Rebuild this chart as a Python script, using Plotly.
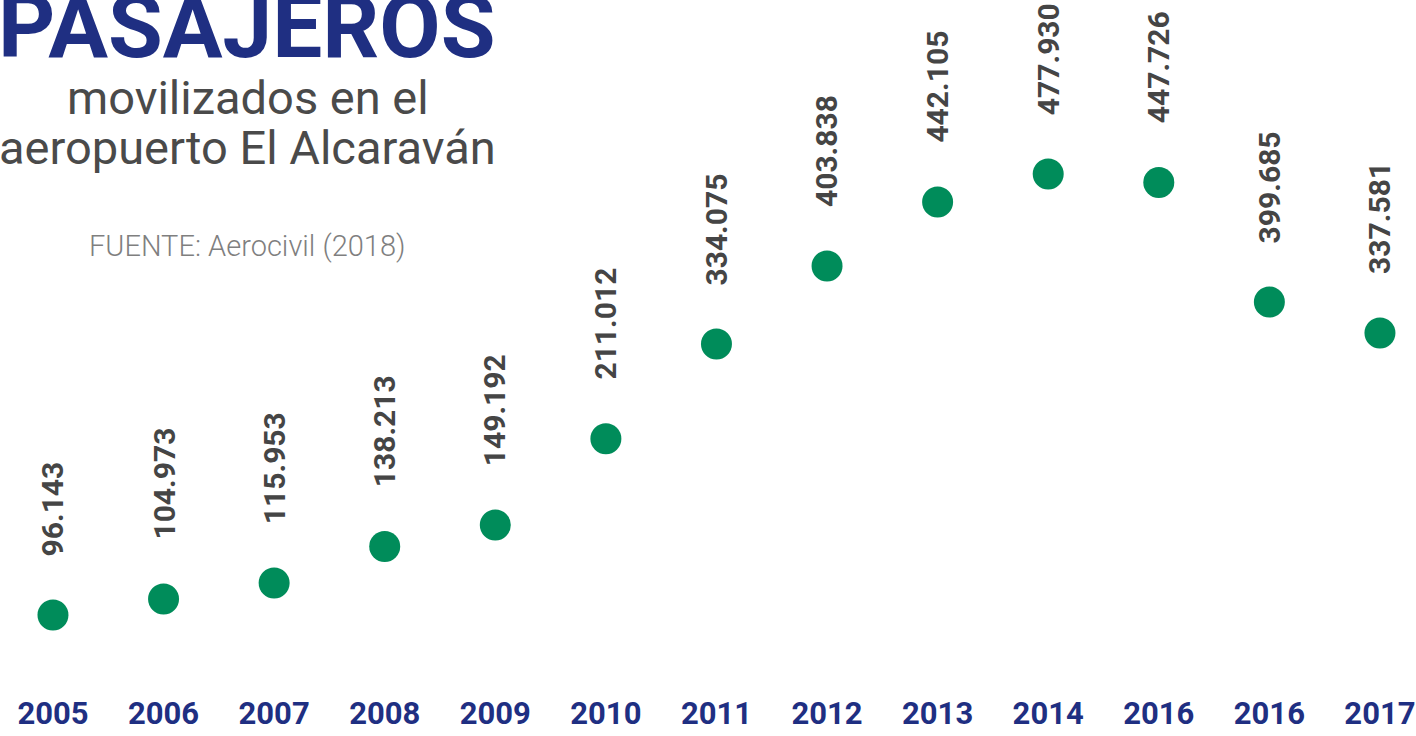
import plotly.graph_objects as go

# ---- data ----
anios = ["2005", "2006", "2007", "2008", "2009", "2010", "2011",
         "2012", "2013", "2014", "2016", "2016", "2017"]
etiquetas = ["96.143", "104.973", "115.953", "138.213", "149.192", "211.012",
             "334.075", "403.838", "442.105", "477.930", "447.726", "399.685", "337.581"]
# marker heights (passengers)
valores_punto = [96143, 110000, 123800, 155400, 174100, 248800, 330700,
                 398300, 453700, 477930, 470600, 367100, 340300]

AZUL = "#1f2f82"
VERDE = "#008c5a"
GRIS = "#454545"
SANS = "Roboto, 'Liberation Sans', Arial, sans-serif"

W, H = 1416, 736
MB = 44
PH = H - MB

def py(p):
    return (PH - p) / PH

def px(p):
    return p / W

pos = list(range(len(anios)))

fig = go.Figure()
fig.add_trace(go.Scatter(
    x=pos, y=valores_punto, mode="markers",
    marker=dict(size=31, color=VERDE, line=dict(width=0)),
    hoverinfo="skip", showlegend=False,
))

annotations = []
for i, (v, t) in enumerate(zip(valores_punto, etiquetas)):
    annotations.append(dict(
        x=i, y=v, xref="x", yref="y", text=t, showarrow=False,
        textangle=-90, xanchor="center", yanchor="bottom", yshift=57,
        font=dict(family=SANS, size=30, color=GRIS, weight="bold"),
    ))

annotations += [
    dict(x=px(498), y=py(26), xref="paper", yref="paper", text="PASAJEROS",
         showarrow=False, xanchor="right", yanchor="middle",
         font=dict(family=SANS, size=89, color=AZUL, weight="bold")),
    dict(x=px(247.5), y=py(98), xref="paper", yref="paper", text="movilizados en el",
         showarrow=False, xanchor="center", yanchor="middle",
         font=dict(family=SANS, size=47, color="#4a4a4a")),
    dict(x=px(247.5), y=py(148), xref="paper", yref="paper", text="aeropuerto El Alcaraván",
         showarrow=False, xanchor="center", yanchor="middle",
         font=dict(family=SANS, size=47, color="#4a4a4a")),
    dict(x=px(247), y=py(246), xref="paper", yref="paper", text="FUENTE: Aerocivil (2018)",
         showarrow=False, xanchor="center", yanchor="middle",
         font=dict(family=SANS, size=29, color="#7f7f7f", weight=300)),
]

fig.update_layout(
    width=W, height=H,
    margin=dict(l=0, r=0, t=0, b=MB, pad=0),
    paper_bgcolor="white", plot_bgcolor="white",
    annotations=annotations,
    xaxis=dict(range=[-0.479, 12.326], tickmode="array", tickvals=pos, ticktext=anios,
               showgrid=False, zeroline=False, showline=False, ticks="",
               ticklabeloverflow="allow", automargin=False,
               tickfont=dict(family=SANS, size=31, color=AZUL, weight="bold"),
               fixedrange=True),
    yaxis=dict(range=[29484, 628562], visible=False, showgrid=False, zeroline=False,
               fixedrange=True),
)

fig.write_html("out.html", config={"displayModeBar": False},
               post_script="document.body.style.margin='0';")
